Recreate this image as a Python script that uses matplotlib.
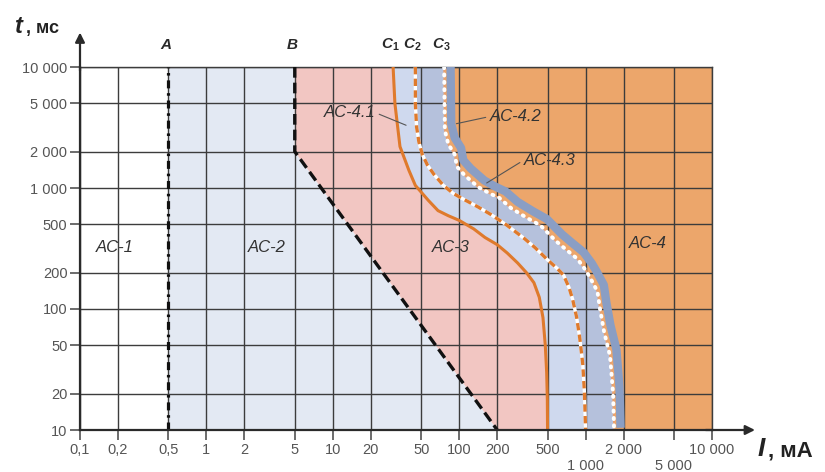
import matplotlib
matplotlib.use("Agg")
import matplotlib.pyplot as plt
import numpy as np
from matplotlib.transforms import offset_copy

plt.rcParams['font.family'] = ['Liberation Sans', 'DejaVu Sans']
plt.rcParams['mathtext.fontset'] = 'custom'
plt.rcParams['mathtext.it'] = 'Liberation Sans:italic:bold'
plt.rcParams['mathtext.rm'] = 'Liberation Sans:bold'

# ---------------- data ----------------
x_ticks = [0.1, 0.2, 0.5, 1, 2, 5, 10, 20, 50, 100, 200, 500, 1000, 2000, 5000, 10000]
x_tick_labels = ['0,1', '0,2', '0,5', '1', '2', '5', '10', '20', '50', '100', '200',
                 '500', '\n1 000', '2 000', '\n5 000', '10 000']
y_ticks = [10, 20, 50, 100, 200, 500, 1000, 2000, 5000, 10000]
y_tick_labels = ['10', '20', '50', '100', '200', '500', '1 000', '2 000', '5 000', '10 000']

# curve A (dash-dot)
a_ma = [0.5, 0.5]
a_ms = [10, 10000]
# curve B (dashed)
b_ma = [5, 5, 200]
b_ms = [10000, 2000, 10]
# curve C1
c1_ma = [30, 31, 34, 40, 45, 57, 68, 82, 100, 130, 160, 200, 240, 290, 340, 390, 430,
         460, 480, 492, 498, 500]
c1_ms = [10000, 5000, 2200, 1400, 1050, 790, 650, 590, 540, 460, 390, 340, 290, 240,
         200, 165, 125, 85, 50, 30, 18, 10]
# curve C2
c2_ma = [45, 45, 46, 48, 51, 56, 63, 75, 90, 110, 140, 180, 240, 330, 400, 510, 600,
         670, 740, 790, 850, 900, 950, 980, 1000]
c2_ms = [10000, 5000, 3200, 2400, 1900, 1550, 1300, 1050, 900, 800, 700, 600, 490, 380,
         320, 250, 215, 190, 150, 120, 85, 57, 35, 20, 10]
# curve C3
c3_ma = [76, 77, 82, 92, 96, 110, 141, 175, 207, 258, 340, 440, 580, 700, 860, 1000,
         1090, 1240, 1300, 1400, 1560, 1650, 1680]
c3_ms = [10000, 3000, 2300, 1900, 1500, 1280, 1020, 900, 830, 680, 570, 490, 366, 310,
         260, 210, 180, 140, 100, 65, 41, 20, 10]

zone_labels = ['AC-1', 'AC-2', 'AC-3', 'AC-4']
zone_pos = [(0.19, 320), (3.0, 320), (85, 325), (3100, 350)]
sub_labels = ['AC-4.1', 'AC-4.2', 'AC-4.3']
sub_text_pos = [(13.5, 4200), (280, 3900), (520, 1700)]
sub_point_pos = [(38, 3300), (95, 3400), (165, 1100)]

# ---------------- style ----------------
col_ac2 = '#e3e9f3'
col_ac3 = '#f2c6c2'
col_ac41 = '#cfd9ee'
col_ac42 = '#b5c1dc'
col_ac4 = '#eca66b'
col_band = '#8a9ec4'
col_orange = '#df7a2c'
col_grid = '#3c3c3c'

W, H = 825, 472
fig = plt.figure(figsize=(W / 100, H / 100), dpi=100)
ax = fig.add_axes([80 / W, (H - 430) / H, 632 / W, 363 / H])
ax.set_xscale('log')
ax.set_yscale('log')
xmin, xmax = x_ticks[0], x_ticks[-1]
ymin, ymax = y_ticks[0], y_ticks[-1]
ax.set_xlim(xmin, xmax)
ax.set_ylim(ymin, ymax)

# zone fills
ax.fill(np.r_[a_ma, b_ma], np.r_[a_ms, b_ms], color=col_ac2, lw=0, zorder=1)
ax.fill(np.r_[b_ma, c1_ma[::-1]], np.r_[b_ms, c1_ms[::-1]], color=col_ac3, lw=0, zorder=1)
ax.fill(np.r_[c1_ma, c2_ma[::-1]], np.r_[c1_ms, c2_ms[::-1]], color=col_ac41, lw=0, zorder=1)
ax.fill(np.r_[c2_ma, c3_ma[::-1]], np.r_[c2_ms, c3_ms[::-1]], color=col_ac42, lw=0, zorder=1)
ax.fill(np.r_[c3_ma, [xmax, xmax]], np.r_[c3_ms, [ymin, ymax]], color=col_ac4, lw=0, zorder=1)

ax.set_axisbelow('line')
ax.grid(True, which='major', color=col_grid, lw=1.0)

# curves
ax.plot(a_ma, a_ms, color='#111111', lw=2.3, linestyle=(0, (2.5, 1.5, 0.8, 1.5)), zorder=4)
ax.plot(b_ma, b_ms, color='#111111', lw=2.4, linestyle=(0, (3.2, 1.5)), zorder=4)
ax.plot(c1_ma, c1_ms, color=col_orange, lw=2.2, zorder=4, solid_joinstyle='round')
ax.plot(c2_ma, c2_ms, color='white', lw=2.4, zorder=4, solid_joinstyle='round')
ax.plot(c2_ma, c2_ms, color=col_orange, lw=2.4, linestyle=(0, (2.2, 1.3)), zorder=4)
band_tr = offset_copy(ax.transData, fig=fig, x=4.6, y=4.6, units='points')
ax.plot(c3_ma, c3_ms, color=col_band, lw=6, transform=band_tr, zorder=3,
        solid_joinstyle='round', clip_on=True)
ax.plot(c3_ma, c3_ms, color='#e8a070', lw=1.2, zorder=4)
ax.plot(c3_ma, c3_ms, color='white', lw=2.8, linestyle=(0, (0.3, 1.6)),
        dash_capstyle='round', zorder=5)

# ticks
ax.set_xticks(x_ticks)
ax.set_xticklabels(x_tick_labels)
ax.set_yticks(y_ticks)
ax.set_yticklabels(y_tick_labels)
ax.minorticks_off()
ax.tick_params(axis='both', which='major', length=7, width=1.1, color='#444444',
               labelsize=10.5, labelcolor='#555555', pad=2)
for lab in ax.get_xticklabels():
    lab.set_linespacing(1.25)

for s in ['left', 'bottom']:
    ax.spines[s].set_color('#2a2a2a')
    ax.spines[s].set_linewidth(1.6)
    ax.spines[s].set_zorder(6)
for s in ['top', 'right']:
    ax.spines[s].set_color(col_grid)
    ax.spines[s].set_linewidth(1.0)

# axis arrows
arrow_kw = dict(arrowstyle='-|>', color='#2a2a2a', lw=1.6, mutation_scale=14,
                shrinkA=0, shrinkB=0)
ax.annotate('', xy=(0, 1.095), xytext=(0, 0.99), xycoords='axes fraction',
            arrowprops=arrow_kw, annotation_clip=False)
ax.annotate('', xy=(1.068, 0), xytext=(0.99, 0), xycoords='axes fraction',
            arrowprops=arrow_kw, annotation_clip=False)

# zone labels
for lab, (x, y) in zip(zone_labels, zone_pos):
    ax.text(x, y, lab, ha='center', va='center', style='italic', fontsize=12,
            color='#333333', zorder=7)
for lab, (tx, ty), (px, py) in zip(sub_labels, sub_text_pos, sub_point_pos):
    rel = (1, 0.5) if tx < px else (0, 0.5)
    ax.annotate(lab, xy=(px, py), xytext=(tx, ty), ha='center', va='center',
                style='italic', fontsize=12, color='#333333', zorder=7,
                arrowprops=dict(arrowstyle='-', color='#555555', lw=0.8,
                                shrinkA=1, shrinkB=0, relpos=rel))

# curve letters
curve_names = ['A', 'B', r'$C_1$', r'$C_2$', r'$C_3$']
curve_tops = [a_ma[-1], b_ma[0], c1_ma[0], c2_ma[0], c3_ma[0]]
for name, xv in zip(curve_names, curve_tops):
    ax.annotate(name, xy=(xv, ymax), xytext=(-2, 16), textcoords='offset points',
                ha='center', va='center', fontsize=11, fontweight='bold', style='italic',
                color='#2a2a2a', annotation_clip=False)

# axis titles
fig.text(15 / W, 1 - 33 / H, 't', fontsize=17, fontweight='bold', style='italic',
         color='#222222', va='baseline')
fig.text(26 / W, 1 - 33 / H, ', мс', fontsize=13, fontweight='bold',
         color='#222222', va='baseline')
fig.text(758 / W, 1 - 456 / H, 'I', fontsize=19, fontweight='bold', style='italic',
         color='#222222', va='baseline')
fig.text(768 / W, 1 - 456 / H, ', мА', fontsize=16, fontweight='bold',
         color='#222222', va='baseline')

fig.savefig('out.png', dpi=100)
